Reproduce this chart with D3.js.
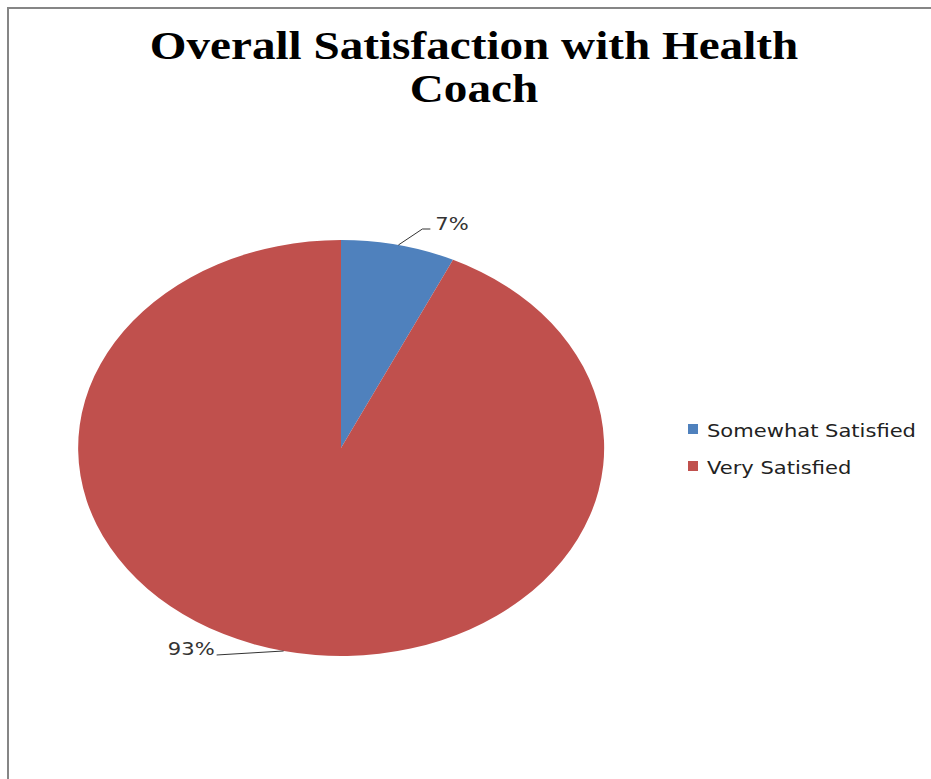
<!DOCTYPE html>
<html>
<head>
<meta charset="utf-8">
<script src="https://cdn.jsdelivr.net/npm/d3@7"></script>
<style>
  body { margin: 0; background: #fff; }
  svg { display: block; }
</style>
</head>
<body>
<svg id="chart" width="931" height="779"></svg>
<script>
// Survey results
const categories = ["Somewhat Satisfied", "Very Satisfied"];
const values = [7, 93];
const colors = ["#4F81BD", "#C0504D"];
const titleLines = ["Overall Satisfaction with Health", "Coach"];

const svg = d3.select("#chart");
const W = 931, H = 779;
const stretch = 1.17;        // horizontal stretch applied to the sans text

// chart frame (only top and left edges fall inside the view)
svg.append("rect")
  .attr("x", 8).attr("y", 8)
  .attr("width", W + 20).attr("height", H + 20)
  .attr("fill", "#fff")
  .attr("stroke", "#868686").attr("stroke-width", 2);

// title
const title = svg.append("g").attr("transform", "translate(474,0) scale(1.21,1)")
  .append("text")
  .attr("text-anchor", "middle")
  .attr("font-family", "'Liberation Serif', 'Times New Roman', serif")
  .attr("font-weight", "bold")
  .attr("font-size", 39)
  .attr("fill", "#000");
titleLines.forEach((t, i) => {
  title.append("tspan").attr("x", 0).attr("y", 59 + i * 43).text(t);
});

// pie, drawn as a unit circle and stretched into an ellipse
const cx = 341, cy = 448, rx = 263, ry = 208;
const pie = d3.pie().sort(null).value(d => d)(values);
const arc = d3.arc().innerRadius(0).outerRadius(1);

const g = svg.append("g").attr("transform", `translate(${cx},${cy})`);
g.selectAll("path")
  .data(pie)
  .join("path")
  .attr("transform", `scale(${rx},${ry})`)
  .attr("d", arc)
  .attr("fill", (d, i) => colors[i]);

// data labels with leader lines from each slice's mid-angle
const labelFont = "'DejaVu Sans', Verdana, sans-serif";
function edgePoint(angle) {
  return [Math.sin(angle) * rx, -Math.cos(angle) * ry];
}
pie.forEach((d, i) => {
  const mid = (d.startAngle + d.endAngle) / 2;
  const p0 = edgePoint(mid);
  let pts, tx, ty, anchor;
  if (i === 0) {
    const p1 = [p0[0] + 24, p0[1] - 16];
    const p2 = [p1[0] + 8, p1[1]];
    pts = [p0, p1, p2];
    tx = p2[0] + 5; ty = p2[1] + 1; anchor = "start";
  } else {
    const p1 = [p0[0] - 67, p0[1] + 4];
    pts = [p0, p1];
    tx = p1[0] - 2; ty = p1[1]; anchor = "end";
  }
  g.append("polyline")
    .attr("points", pts.map(p => p.join(",")).join(" "))
    .attr("fill", "none")
    .attr("stroke", "#333").attr("stroke-width", 1);
  g.append("g").attr("transform", `translate(${tx},${ty}) scale(${stretch},1)`)
    .append("text")
    .attr("text-anchor", anchor)
    .attr("font-family", labelFont)
    .attr("font-size", 18)
    .attr("fill", "#333")
    .text(values[i] + "%");
});

// legend
const legend = svg.append("g").attr("transform", "translate(688,424)");
categories.forEach((c, i) => {
  const row = legend.append("g").attr("transform", `translate(0,${i * 37})`);
  row.append("rect").attr("width", 10).attr("height", 10).attr("fill", colors[i]);
  row.append("g").attr("transform", `translate(19,12.5) scale(${stretch},1)`)
    .append("text")
    .attr("font-family", labelFont)
    .attr("font-size", 18)
    .attr("fill", "#222")
    .text(c);
});
</script>
</body>
</html>
